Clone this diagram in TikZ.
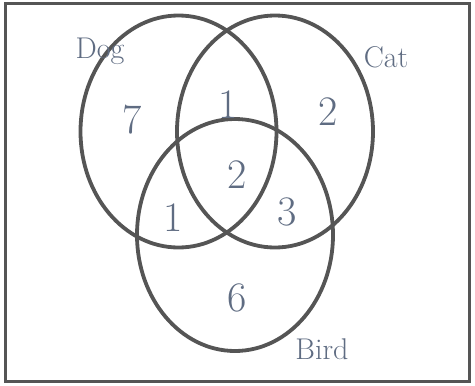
\documentclass[tikz,border=0pt]{standalone}
\usepackage{tikz}
\usetikzlibrary{shapes.geometric}
\definecolor{ink}{RGB}{95,108,130}
\definecolor{pencil}{RGB}{85,85,85}
\def\rx{196pt}
\def\ry{232pt}

\begin{document}
\begin{tikzpicture}[
    x=1pt, y=-1pt,
    set/.style={ellipse, draw=pencil, line width=3.8pt, minimum width=\rx, minimum height=\ry, inner sep=0pt},
    count/.style={text=ink, font=\fontsize{42}{42}\selectfont},
    setname/.style={text=ink, font=\fontsize{30}{30}\selectfont}
]
\useasboundingbox (0,0) rectangle (475,386);
\draw[pencil, line width=3pt] (5,3) rectangle (469,381);
% the three sets
\node[set] (dog) at (178.5,131.5) {};
\node[set] (cat) at (275,131.5) {};
\node[set] (bird) at (235,235) {};
% names
\node[setname] (dogname) at (100,51) {Dog};
\node[setname] (catname) at (386,57) {Cat};
\node[setname] (birdname) at (322,349) {Bird};
% counts
\node[count] (dogonly) at (132,120) {7};
\node[count] (dogcat) at (228,105) {1};
\node[count] (catonly) at (328,112) {2};
\node[count] (all) at (237,175) {2};
\node[count] (dogbird) at (173,218) {1};
\node[count] (catbird) at (287,212) {3};
\node[count] (birdonly) at (237,298) {6};
\end{tikzpicture}
\end{document}
